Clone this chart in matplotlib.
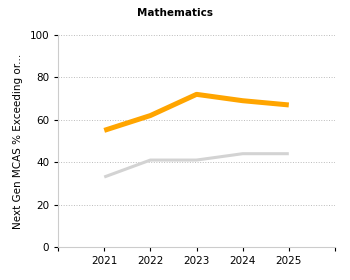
import matplotlib
matplotlib.use('Agg')
import matplotlib.pyplot as plt

years = [2021, 2022, 2023, 2024, 2025]
school = [55, 62, 72, 69, 67]
state = [33, 41, 41, 44, 44]

plt.rcParams.update({'font.family': 'DejaVu Sans', 'font.size': 7})

fig = plt.figure(figsize=(3.5, 2.8), dpi=100)
ax = fig.add_axes([0.166, 0.118, 0.791, 0.757])

ax.plot(years, state, color='#d3d3d3', linewidth=2.2, solid_capstyle='butt')
ax.plot(years, school, color='#ffa500', linewidth=3.6, solid_capstyle='butt')

ax.set_xlim(2020, 2026)
ax.set_ylim(0, 100)
ax.set_xticks([2020, 2021, 2022, 2023, 2024, 2025, 2026])
ax.set_xticklabels(['', '2021', '2022', '2023', '2024', '2025', ''])
ax.set_yticks([0, 20, 40, 60, 80, 100])
ax.yaxis.grid(True, linestyle=':', color='#bbbbbb', linewidth=0.7)
ax.set_axisbelow(True)

for s in ['top', 'right']:
    ax.spines[s].set_visible(False)
for s in ['left', 'bottom']:
    ax.spines[s].set_color('#cccccc')
ax.tick_params(axis='both', length=3, width=0.8, color='black', labelsize=7.5)

ax.set_ylabel('Next Gen MCAS % Exceeding or...', fontsize=7.5, labelpad=5)
fig.text(0.5, 0.953, 'Mathematics', ha='center', va='center',
         fontsize=7.5, fontweight='bold')

fig.savefig('out.png', dpi=100)
